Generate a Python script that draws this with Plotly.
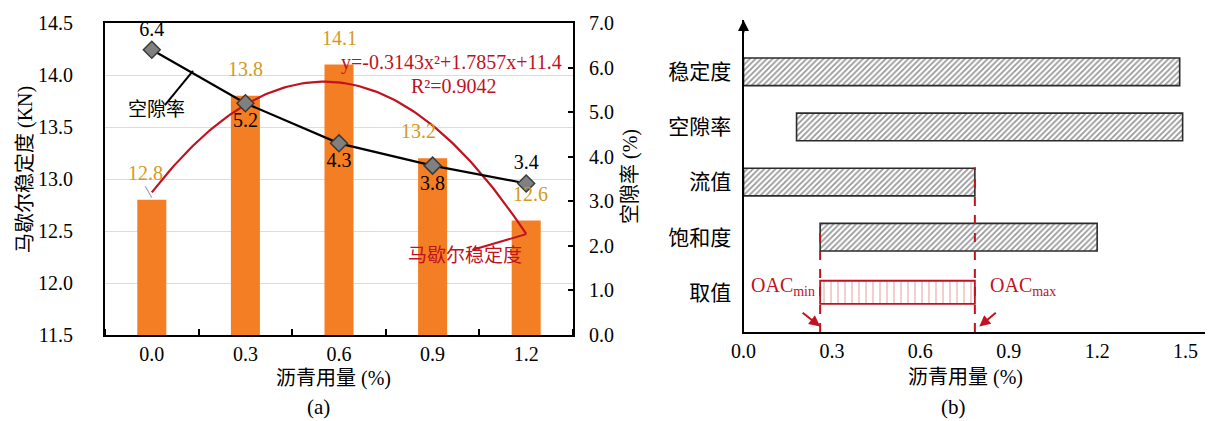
import numpy as np
import plotly.graph_objects as go

# ---------------- data: panel (a) ----------------
dosage_labels = ["0.0", "0.3", "0.6", "0.9", "1.2"]
stability_kn = [12.8, 13.8, 14.1, 13.2, 12.6]
void_ratio = [6.4, 5.2, 4.3, 3.8, 3.4]
void_label_pos = ["top center", "bottom center", "bottom center", "bottom center", "top center"]

# ---------------- data: panel (b) ----------------
criteria = ["稳定度", "空隙率", "流值", "饱和度"]
range_start = [0.0, 0.18, 0.0, 0.26]
range_end = [1.48, 1.49, 0.785, 1.20]
oac_label = "取值"
oac_min = 0.26
oac_max = 0.785
b_ticks = [0.0, 0.3, 0.6, 0.9, 1.2, 1.5]

FONT = "Liberation Serif, 'Noto Sans CJK SC', serif"
ORANGE = "#F47E24"
GOLD = "#D49A1E"
RED = "#C0121F"
W, H = 1213, 421
TXT_LIFT = 8  # compensates the vertical offset of annotation text boxes
BAR_LABEL_XSHIFT = [-6, 0, 0, -14, 4]

pos = list(range(1, len(dosage_labels) + 1))

# quadratic trend line fitted to the stability values
coef = np.polyfit(pos, stability_kn, 2)
xf = np.linspace(pos[0], pos[-1], 120)
yf = np.polyval(coef, xf)

fig = go.Figure()

fig.add_trace(go.Bar(x=pos, y=stability_kn, width=0.31, marker=dict(color=ORANGE, line=dict(width=0)),
                     xaxis="x", yaxis="y", showlegend=False, hoverinfo="skip"))
fig.add_trace(go.Scatter(x=xf, y=yf, mode="lines", line=dict(color=RED, width=2.2),
                         xaxis="x", yaxis="y", showlegend=False, hoverinfo="skip"))
fig.add_trace(go.Scatter(x=pos, y=void_ratio, mode="lines+markers+text",
                         text=[f"{v:.1f}" for v in void_ratio], textposition=void_label_pos,
                         textfont=dict(family=FONT, size=20, color="black"),
                         line=dict(color="black", width=2.2),
                         marker=dict(symbol="diamond", size=13, color="#808080",
                                     line=dict(color="#3a3a3a", width=1.5)),
                         xaxis="x", yaxis="y2", showlegend=False, hoverinfo="skip"))

# panel (b) bars
cat_order = [oac_label] + criteria[::-1]  # bottom -> top
fig.add_trace(go.Bar(y=criteria, x=[e - s for s, e in zip(range_start, range_end)], base=range_start,
                     orientation="h", width=0.5,
                     marker=dict(color="white", line=dict(color="#2b2b2b", width=1.6),
                                 pattern=dict(shape="/", fgcolor="#333333", bgcolor="white",
                                              size=4, solidity=0.45)),
                     xaxis="x2", yaxis="y3", showlegend=False, hoverinfo="skip"))
fig.add_trace(go.Bar(y=[oac_label], x=[oac_max - oac_min], base=[oac_min],
                     orientation="h", width=0.42,
                     marker=dict(color="white", line=dict(color=RED, width=1.8),
                                 pattern=dict(shape="|", fgcolor=RED, bgcolor="white",
                                              size=7, solidity=0.12)),
                     xaxis="x2", yaxis="y3", showlegend=False, hoverinfo="skip"))


def paper_text(px, py, text, size=20, color="black", angle=0):
    return dict(x=px / W, y=1 - (py - TXT_LIFT) / H, xref="paper", yref="paper", text=text,
                xanchor="center", yanchor="middle", textangle=angle, showarrow=False,
                font=dict(family=FONT, size=size, color=color))


def data_text(x, y, xr, yr, text, size=20, color="black", xanchor="center", xshift=0, yshift=0):
    return dict(x=x, y=y, xref=xr, yref=yr, text=text, showarrow=False, xanchor=xanchor,
                xshift=xshift, yshift=yshift + TXT_LIFT,
                font=dict(family=FONT, size=size, color=color))


ann = []
# bar value labels (a)
for p, v, dx in zip(pos, stability_kn, BAR_LABEL_XSHIFT):
    ann.append(data_text(p, v, "x", "y", f"{v:.1f}", color=GOLD, yshift=19, xshift=dx))
# equation
ann.append(data_text(4.2, 14.04, "x", "y", f"y={coef[0]:.4f}x²+{coef[1]:.4f}x+{coef[2]:.1f}", color=RED))
ann.append(data_text(4.23, 13.82, "x", "y", "R²=0.9042", color=RED))
ann.append(data_text(1.045, 13.59, "x", "y", "空隙率", size=19))
ann.append(data_text(4.35, 12.19, "x", "y", "马歇尔稳定度", size=19, color=RED))
# axis titles (a)
ann.append(paper_text(325, 378, "沥青用量 (%)"))
ann.append(paper_text(310, 407, "(a)", size=21))
ann.append(paper_text(18, 170, "马歇尔稳定度 (KN)", angle=-90))
ann.append(paper_text(622, 177, "空隙率 (%)", angle=-90))
# panel (b) texts
ann.append(paper_text(957, 377, "沥青用量 (%)"))
ann.append(paper_text(945, 407, "(b)", size=21))
ann.append(data_text(oac_min, 0, "x2", "y3", "OAC<sub>min</sub>", color=RED, xanchor="right",
                     xshift=-3, yshift=-2))
ann.append(data_text(oac_max, 0, "x2", "y3", "OAC<sub>max</sub>", color=RED, xanchor="left",
                     xshift=13, yshift=-2))
ann.append(dict(x=oac_min, y=-0.62, xref="x2", yref="y3", ax=-19, ay=-15, showarrow=True, text="",
                arrowhead=2, arrowsize=1.1, arrowwidth=2, arrowcolor=RED))
ann.append(dict(x=oac_max + 0.015, y=-0.62, xref="x2", yref="y3", ax=18, ay=-15, showarrow=True, text="",
                arrowhead=2, arrowsize=1.1, arrowwidth=2, arrowcolor=RED))
# axis arrowheads (b)
ann.append(dict(x=0, y=4.94, xref="x2", yref="y3", ax=0, ay=14, showarrow=True, text="",
                arrowhead=2, arrowsize=1.1, arrowwidth=2, arrowcolor="black"))
ann.append(dict(x=1.61, y=-0.72, xref="x2", yref="y3", ax=-14, ay=0, showarrow=True, text="",
                arrowhead=2, arrowsize=1.1, arrowwidth=2, arrowcolor="black"))

shapes = [
    # leader lines (a)
    dict(type="line", xref="x", yref="y", x0=1.14, y0=13.71, x1=1.44, y1=14.04,
         line=dict(color="black", width=2)),
    dict(type="line", xref="x", yref="y", x0=4.43, y0=12.32, x1=5.0, y1=12.47,
         line=dict(color=RED, width=2)),
    dict(type="line", xref="x", yref="y", x0=0.93, y0=12.93, x1=1.0, y1=12.82,
         line=dict(color="#9aa4b8", width=1.2)),
    # OAC dashed lines (b)
    dict(type="line", xref="x2", yref="y3", x0=oac_min, y0=-0.72, x1=oac_min, y1=1.25,
         line=dict(color=RED, width=2, dash="dash")),
    dict(type="line", xref="x2", yref="y3", x0=oac_max, y0=-0.72, x1=oac_max, y1=2.27,
         line=dict(color=RED, width=2, dash="dash")),
]

tickfont = dict(family=FONT, size=20, color="black")
fig.update_layout(
    width=W, height=H, margin=dict(l=0, r=0, t=0, b=0),
    paper_bgcolor="white", plot_bgcolor="white",
    barmode="overlay", showlegend=False,
    font=dict(family=FONT, size=19, color="black"),
    xaxis=dict(domain=[97 / W, 565 / W], anchor="y", range=[0.5, 5.5],
               tickmode="array", tickvals=pos, ticktext=dosage_labels, ticks="",
               minor=dict(tickmode="linear", tick0=0.5, dtick=1, ticks="inside", ticklen=6,
                          tickwidth=2, tickcolor="black", showgrid=False),
               showline=True, linecolor="black", linewidth=2, mirror=True,
               showgrid=False, zeroline=False, tickfont=tickfont, ticklabelstandoff=0,
               automargin=False),
    yaxis=dict(domain=[1 - 327 / H, 1 - 15 / H], anchor="x", range=[11.5, 14.5], dtick=0.5,
               tickformat=".1f", ticks="", showline=True, linecolor="black", linewidth=2,
               showgrid=True, gridcolor="#dcdcdc", gridwidth=1, zeroline=False,
               tickfont=tickfont, ticklabelstandoff=26, automargin=False),
    yaxis2=dict(overlaying="y", side="right", anchor="x", range=[0, 7], dtick=1, tickformat=".1f",
                ticks="inside", ticklen=5, tickwidth=2, tickcolor="black",
                showline=True, linecolor="black", linewidth=2, showgrid=False, zeroline=False,
                tickfont=tickfont, ticklabelstandoff=10, automargin=False),
    xaxis2=dict(domain=[735.5 / W, 1210 / W], anchor="y3", range=[0, 1.61],
                tickmode="array", tickvals=b_ticks, tickformat=".1f", ticks="",
                showline=True, linecolor="black", linewidth=2, showgrid=False, zeroline=False,
                tickfont=tickfont, ticklabelstandoff=0, automargin=False),
    yaxis3=dict(domain=[1 - 324 / H, 1 - 12 / H], anchor="x2", type="category",
                categoryorder="array", categoryarray=cat_order, range=[-0.72, 4.94],
                ticks="", showline=True, linecolor="black", linewidth=2, showgrid=False,
                zeroline=False, tickfont=dict(family=FONT, size=21, color="black"),
                ticklabelstandoff=6, automargin=False),
    annotations=ann, shapes=shapes,
)

fig.write_html("out.html")
